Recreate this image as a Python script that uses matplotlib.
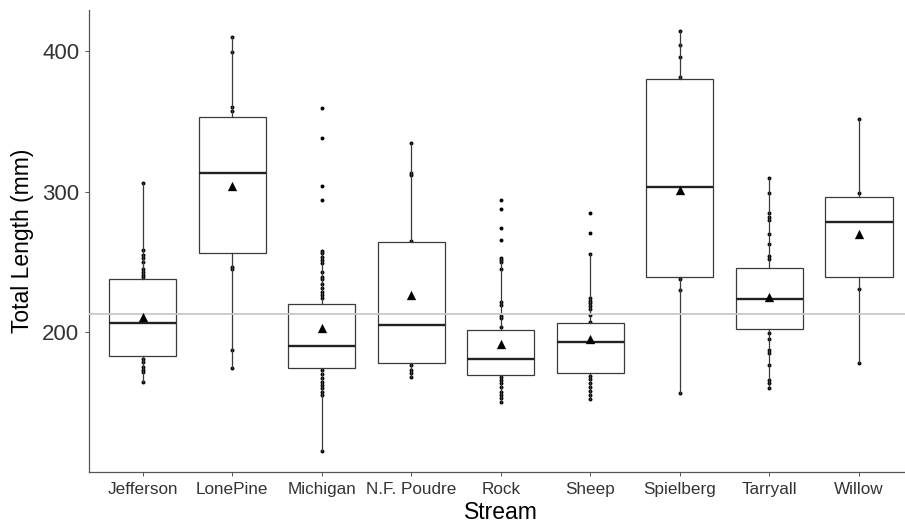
import matplotlib
matplotlib.use("Agg")
import matplotlib.pyplot as plt

plt.rcParams['font.family'] = ['Liberation Sans', 'DejaVu Sans']

streams = ["Jefferson", "LonePine", "Michigan", "N.F. Poudre", "Rock",
           "Sheep", "Spielberg", "Tarryall", "Willow"]

q1 = [182.9, 256.2, 174.4, 178.4, 169.6, 170.8, 239.1, 202.1, 239.6]
medians = [206.4, 313.0, 190.5, 205.2, 180.8, 192.9, 303.1, 223.5, 278.2]
q3 = [238.1, 352.9, 220.4, 264.0, 201.6, 206.6, 379.9, 245.5, 296.4]
whisker_low = [164.4, 174.4, 115.6, 168.4, 150.7, 152.4, 156.6, 160.2, 178.4]
whisker_high = [306.4, 410.2, 257.8, 334.4, 252.6, 255.5, 414.2, 309.5, 351.4]
means = [211.1, 304.2, 202.9, 226.5, 191.9, 195.0, 301.2, 225.3, 269.9]

points = {
    "Jefferson": [306.4, 258.5, 255.0, 252.6, 250.2, 244.8, 243.1, 240.7, 239.1,
                  181.0, 178.6, 175.5, 173.2, 171.5, 164.4],
    "LonePine": [410.2, 399.1, 360.4, 357.3, 246.7, 244.8, 187.4, 174.4],
    "Michigan": [359.3, 338.4, 304.2, 294.4, 257.8, 256.2, 253.8, 251.4, 249.1,
                 243.1, 239.1, 237.7, 234.3, 231.3, 228.9, 226.5, 224.2,
                 172.8, 170.4, 167.3, 164.9, 162.6, 160.2, 157.8, 155.5, 115.6],
    "N.F. Poudre": [334.4, 313.0, 312.0, 265.1, 176.7, 173.2, 170.8, 168.4],
    "Rock": [294.4, 287.4, 274.4, 265.5, 252.6, 251.4, 250.2, 244.8, 221.4, 219.5,
             211.7, 210.0, 203.6, 168.0, 166.1, 163.7, 161.3, 157.8, 155.4,
             153.1, 150.7],
    "Sheep": [284.6, 270.4, 255.5, 224.6, 222.3, 220.6, 218.9, 216.3, 212.3, 207.5,
              168.9, 166.5, 163.7, 161.3, 158.5, 155.4, 152.4],
    "Spielberg": [414.2, 404.3, 396.0, 381.3, 238.1, 230.0, 156.6],
    "Tarryall": [309.5, 299.3, 284.6, 282.2, 279.8, 269.7, 262.8, 254.3, 251.9,
                 199.3, 195.2, 187.4, 185.0, 176.7, 166.1, 163.7, 160.2],
    "Willow": [351.4, 299.3, 230.6, 178.4],
}

reference_line = 213.2
y_ticks = [200, 300, 400]

fig = plt.figure(figsize=(9.05, 5.27), dpi=100)
ax = fig.add_axes([89 / 905, 55 / 527, (912.7 - 89) / 905, 462 / 527])

positions = list(range(1, len(streams) + 1))

# raw points (drawn beneath the white boxes)
for pos, name in zip(positions, streams):
    vals = points[name]
    ax.scatter([pos] * len(vals), vals, s=8, color="black", zorder=1, linewidths=0)

stats = []
for i, name in enumerate(streams):
    stats.append(dict(label=name, q1=q1[i], med=medians[i], q3=q3[i],
                      whislo=whisker_low[i], whishi=whisker_high[i],
                      mean=means[i], fliers=[]))

edge = "#3a3a3a"
bp = ax.bxp(stats, positions=positions, widths=0.75, patch_artist=True,
            showcaps=False, showfliers=False, showmeans=False,
            boxprops=dict(facecolor="white", edgecolor=edge, linewidth=0.9),
            whiskerprops=dict(color=edge, linewidth=0.9),
            medianprops=dict(color="#222222", linewidth=1.7),
            zorder=2)

ax.axhline(reference_line, color="#c8c8c8", linewidth=1.3, zorder=3)

ax.scatter(positions, means, marker="^", s=45, color="black", zorder=4, linewidths=0)

ax.set_xlim(0.4, len(streams) + 0.6)
ax.set_ylim(100.6, 429.2)
ax.set_yticks(y_ticks)
ax.set_yticklabels([str(t) for t in y_ticks], fontsize=16, color="#333333")
ax.set_xticks(positions)
ax.set_xticklabels(streams, fontsize=12.3, color="#333333")
ax.tick_params(axis="both", length=3, width=0.7, color="#555555", pad=4)

for side in ["top", "right"]:
    ax.spines[side].set_visible(False)
for side in ["left", "bottom"]:
    ax.spines[side].set_color("#555555")
    ax.spines[side].set_linewidth(0.9)

ax.set_xlabel("Stream", fontsize=16.5, labelpad=3)
ax.set_ylabel("Total Length (mm)", fontsize=16.5, labelpad=6)

fig.savefig("out.png", dpi=100)
